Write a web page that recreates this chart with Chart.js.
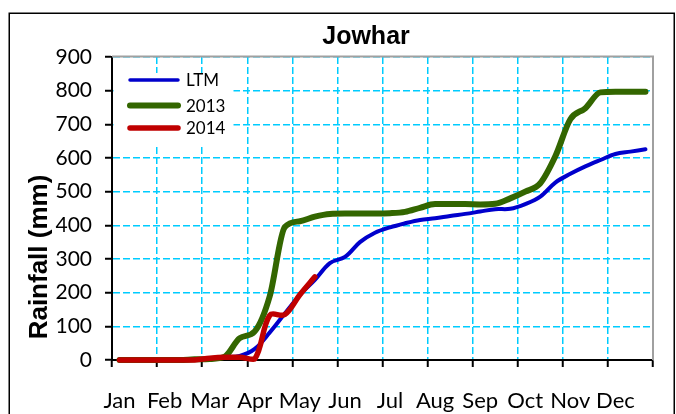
<!DOCTYPE html>
<html>
<head>
<meta charset="utf-8">
<script src="https://cdn.jsdelivr.net/npm/chart.js@4/dist/chart.umd.min.js"></script>
<style>
html,body{margin:0;padding:0;background:#fff;}
#wrap{width:676px;height:414px;position:relative;}
</style>
</head>
<body>
<div id="wrap"><canvas id="c"></canvas></div>
<script>
// ---- data ----
const months = ['Jan','Feb','Mar','Apr','May','Jun','Jul','Aug','Sep','Oct','Nov','Dec'];
const dekads = months.flatMap(m => [m + ' 1', m + ' 2', m + ' 3']);
const ltm   = [0,0,0,0,1,2,5,8,12,33,82,138,193,238,288,306,350,378,394,406,416,421,428,434,441,448,449,463,485,527,553,575,594,612,619,626];
const y2013 = [0,0,0,0,0,2,3,10,65,85,190,395,412,426,434,435,435,435,436,440,452,463,463,463,462,464,480,500,525,605,715,748,795,797,797,797];
const y2014 = [0,0,0,0,0,0,5,8,8,3,133,135,194,247];
const yTicks = [0,100,200,300,400,500,600,700,800,900];
const seriesNames = ['LTM','2013','2014'];
const chartTitle = 'Jowhar';
const yTitle = 'Rainfall (mm)';

const GRID = '#00CCFF';
const COLORS = ['#0000CC','#336600','#C00000'];
const WIDTHS = [4,6,5.5];

const decor = {
  id: 'decor',
  beforeDraw(chart) {
    const ctx = chart.ctx;
    ctx.save();
    ctx.fillStyle = '#fff';
    ctx.fillRect(0, 0, chart.width, chart.height);
    ctx.restore();
  },
  beforeDatasetsDraw(chart) {
    const ctx = chart.ctx, a = chart.chartArea;
    ctx.save();
    // legend background box
    ctx.fillStyle = '#fff';
    ctx.fillRect(a.left + 1.5, 73, 120, 72);
    // gray plot border top/right
    ctx.strokeStyle = '#A0A0A0';
    ctx.lineWidth = 2;
    ctx.beginPath();
    ctx.moveTo(a.left, a.top - 0.5);
    ctx.lineTo(a.right, a.top - 0.5);
    ctx.lineTo(a.right, a.bottom);
    ctx.stroke();
    ctx.restore();
  },
  afterDraw(chart) {
    const ctx = chart.ctx;
    ctx.save();
    // legend
    const ly = [80, 105.5, 128];
    seriesNames.forEach((n, i) => {
      ctx.strokeStyle = COLORS[i];
      ctx.lineWidth = WIDTHS[i] - (i === 0 ? 0.5 : 0);
      ctx.lineCap = 'round';
      ctx.beginPath();
      ctx.moveTo(130, ly[i]);
      ctx.lineTo(178, ly[i]);
      ctx.stroke();
      ctx.fillStyle = '#000';
      ctx.font = '17px Lato';
      ctx.textAlign = 'left';
      ctx.textBaseline = 'middle';
      ctx.fillText(n, 186, ly[i] + 1);
    });
    // title
    ctx.fillStyle = '#000';
    ctx.font = 'bold 25px "Liberation Sans", Arial, sans-serif';
    ctx.textAlign = 'center';
    ctx.textBaseline = 'alphabetic';
    ctx.fillText(chartTitle, 366, 44);
    // y title
    ctx.save();
    ctx.translate(47, 257);
    ctx.rotate(-Math.PI / 2);
    ctx.font = 'bold 26px "Liberation Sans", Arial, sans-serif';
    ctx.textAlign = 'center';
    ctx.textBaseline = 'alphabetic';
    ctx.fillText(yTitle, 0, 0);
    ctx.restore();
    // outer frame
    ctx.strokeStyle = '#000';
    ctx.lineWidth = 1.5;
    ctx.strokeRect(9.25, 13.25, 665, 430);
    ctx.restore();
  }
};

const mk = (label, data, i, extra) => Object.assign({
  label, data,
  borderColor: COLORS[i],
  backgroundColor: COLORS[i],
  borderWidth: WIDTHS[i],
  pointRadius: 0,
  borderCapStyle: 'round',
  borderJoinStyle: 'round',
  fill: false,
  clip: false,
  order: 3 - i,
  tension: 0.35
}, extra || {});

new Chart(document.getElementById('c'), {
  type: 'line',
  data: {
    labels: dekads,
    datasets: [
      mk(seriesNames[0], ltm, 0),
      mk(seriesNames[1], y2013, 1, {cubicInterpolationMode: 'monotone'}),
      mk(seriesNames[2], y2014, 2)
    ]
  },
  options: {
    responsive: true,
    maintainAspectRatio: false,
    devicePixelRatio: 1,
    animation: false,
    events: [],
    layout: { padding: { left: 0, right: 23, top: 57, bottom: 0 } },
    plugins: { legend: { display: false }, title: { display: false }, tooltip: { enabled: false } },
    scales: {
      x: {
        type: 'category',
        offset: true,
        afterFit(s) { s.height = 54; },
        grid: {
          offset: true,
          color: c => (c.index !== undefined && c.index % 3 === 0 && c.index > 0) ? GRID : 'rgba(0,0,0,0)',
          lineWidth: 1.5,
          tickColor: c => (c.index === undefined || c.index % 3 === 0) ? '#000' : 'rgba(0,0,0,0)',
          tickBorderDash: [0, 0],
          tickWidth: 2,
          tickLength: 7,
          drawTicks: true
        },
        border: { display: true, color: '#000', width: 2, dash: [7, 3] },
        ticks: {
          autoSkip: false,
          maxRotation: 0,
          minRotation: 0,
          padding: 21,
          color: '#000',
          font: { family: 'Lato', size: 22 },
          callback: (v, i) => (i % 3 === 0 ? months[i / 3] : '')
        }
      },
      y: {
        min: 0,
        max: 900,
        afterFit(s) { s.width = 112; },
        afterBuildTicks(s) { s.ticks = yTicks.map(v => ({ value: v })); },
        grid: {
          color: c => (c.tick && c.tick.value > 0) ? GRID : 'rgba(0,0,0,0)',
          lineWidth: 1.5,
          tickColor: '#000',
          tickBorderDash: [0, 0],
          tickWidth: 2,
          tickLength: 7
        },
        border: { display: true, color: '#000', width: 2, dash: [7, 3] },
        ticks: {
          padding: 13,
          color: '#000',
          font: { family: 'Lato', size: 21 }
        }
      }
    }
  },
  plugins: [decor]
});
</script>
</body>
</html>
